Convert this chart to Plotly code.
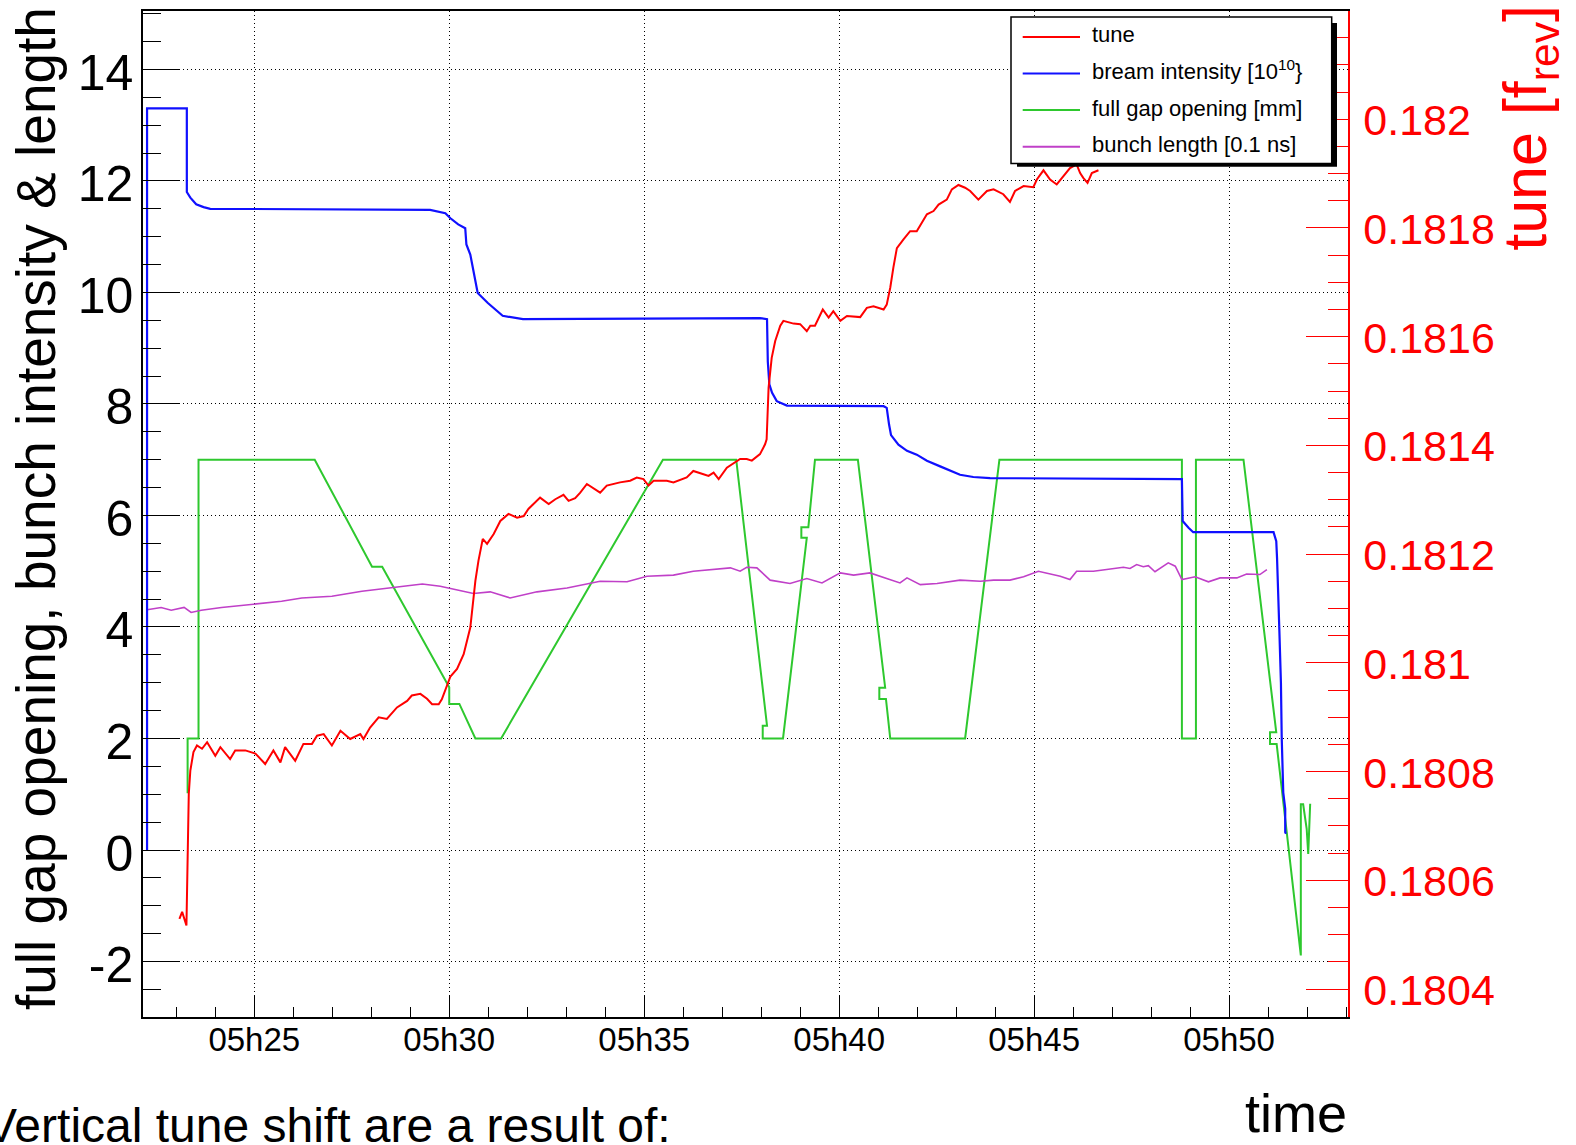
import pandas as pd
import plotly.graph_objects as go

# ---------------- data (time in minutes after 05:00) ----------------
blue_t = [22.25, 22.25, 23.27, 23.27, 23.36, 23.51, 23.70, 23.87, 29.51, 29.77, 29.90, 30.03,
          30.23, 30.41, 30.44, 30.54, 30.60, 30.73, 30.99, 31.37, 31.89, 37.97, 38.15, 38.17,
          38.21, 38.28, 38.40, 38.66, 41.14, 41.22, 41.28, 41.33, 41.52, 41.74, 41.99, 42.25,
          42.59, 42.85, 43.10, 43.44, 43.87, 48.79, 48.81, 48.96, 49.08, 51.14, 51.21, 51.23,
          51.26, 51.29, 51.33, 51.35, 51.39, 51.44, 51.44, 51.46]
blue_v = [0.0, 13.30, 13.30, 11.80, 11.70, 11.58, 11.53, 11.50, 11.48, 11.44, 11.42, 11.33,
          11.22, 11.15, 10.86, 10.68, 10.44, 9.99, 9.81, 9.58, 9.52, 9.54, 9.52, 8.76,
          8.35, 8.20, 8.05, 7.97, 7.96, 7.93, 7.63, 7.44, 7.27, 7.16, 7.09, 6.98,
          6.88, 6.81, 6.73, 6.69, 6.67, 6.65, 5.90, 5.78, 5.70, 5.70, 5.54, 5.24,
          4.70, 3.93, 3.00, 2.02, 1.03, 0.74, 0.32, 0.29]

gap_t = [23.29, 23.29, 23.57, 23.57, 26.55, 28.02, 28.28, 30.00, 30.00, 30.26, 30.67, 31.33,
         35.48, 37.36, 38.15, 38.04, 38.04, 38.56, 39.17, 39.03, 39.03, 39.21, 39.38, 40.48,
         41.18, 41.03, 41.03, 41.20, 41.31, 43.23, 44.11, 48.79, 48.79, 49.15, 49.15, 50.37,
         51.21, 51.05, 51.05, 51.22, 51.84, 51.84, 51.90, 51.99, 52.03, 52.05, 52.08]
gap_v = [1.02, 2.0, 2.0, 7.0, 7.0, 5.08, 5.08, 2.92, 2.62, 2.62, 2.0, 2.0,
         7.0, 7.0, 2.23, 2.23, 2.0, 2.0, 5.60, 5.60, 5.79, 5.79, 7.0, 7.0,
         2.91, 2.91, 2.71, 2.71, 2.0, 2.0, 7.0, 7.0, 2.0, 2.0, 7.0, 7.0,
         2.11, 2.11, 1.90, 1.90, -1.89, 0.82, 0.82, 0.38, -0.07, 0.38, 0.83]

blen_t = [22.25, 22.61, 22.87, 23.20, 23.38, 23.64, 24.16, 24.93, 25.70, 26.22, 26.99, 27.76,
          28.54, 29.31, 29.77, 30.62, 31.05, 31.56, 32.25, 33.02, 33.87, 34.56, 35.07, 35.75,
          36.26, 37.21, 37.46, 37.63, 37.89, 38.23, 38.74, 39.17, 39.56, 40.03, 40.37, 40.79,
          41.56, 41.74, 42.08, 42.51, 43.10, 43.62, 43.96, 44.38, 44.73, 45.11, 45.67, 45.92,
          46.09, 46.52, 46.86, 47.29, 47.46, 47.63, 47.80, 47.93, 48.10, 48.44, 48.62, 48.79,
          49.13, 49.47, 49.77, 50.20, 50.45, 50.79, 50.97]
blen_v = [4.31, 4.35, 4.30, 4.35, 4.26, 4.30, 4.35, 4.41, 4.46, 4.52, 4.55, 4.64,
          4.71, 4.77, 4.73, 4.60, 4.63, 4.52, 4.63, 4.70, 4.82, 4.81, 4.91, 4.93,
          5.00, 5.06, 5.00, 5.07, 5.06, 4.84, 4.78, 4.87, 4.79, 4.97, 4.93, 4.97,
          4.79, 4.88, 4.76, 4.78, 4.84, 4.82, 4.84, 4.84, 4.90, 5.00, 4.91, 4.85,
          5.00, 5.00, 5.03, 5.07, 5.05, 5.12, 5.08, 5.10, 4.99, 5.15, 5.09, 4.85,
          4.90, 4.81, 4.88, 4.88, 4.95, 4.94, 5.03]

tune_t = [23.08, 23.15, 23.26, 23.29, 23.32, 23.36, 23.44, 23.53, 23.66, 23.79, 24.00, 24.13,
          24.38, 24.51, 24.77, 25.03, 25.28, 25.49, 25.67, 25.79, 26.05, 26.26, 26.48, 26.61,
          26.78, 26.99, 27.21, 27.46, 27.72, 27.80, 27.97, 28.19, 28.40, 28.66, 28.92, 29.04,
          29.26, 29.43, 29.56, 29.73, 29.81, 30.03, 30.20, 30.37, 30.54, 30.67, 30.75, 30.86,
          30.97, 31.14, 31.31, 31.52, 31.74, 31.91, 32.03, 32.33, 32.55, 32.72, 32.93, 33.06,
          33.23, 33.36, 33.53, 33.87, 34.04, 34.38, 34.64, 34.81, 34.98, 35.11, 35.24, 35.58,
          35.75, 36.09, 36.26, 36.52, 36.65, 36.78, 36.91, 37.12, 37.33, 37.46, 37.63, 37.76,
          37.97, 38.10, 38.14, 38.19, 38.27, 38.36, 38.49, 38.57, 38.83, 39.00, 39.17, 39.26,
          39.38, 39.47, 39.58, 39.73, 39.85, 40.03, 40.20, 40.54, 40.71, 40.88, 41.14, 41.22,
          41.31, 41.39, 41.48, 41.65, 41.82, 41.99, 42.12, 42.25, 42.42, 42.55, 42.76, 42.89,
          43.06, 43.23, 43.36, 43.57, 43.79, 43.96, 44.21, 44.38, 44.51, 44.73, 44.98, 45.07,
          45.24, 45.41, 45.58, 45.75, 45.92, 46.09, 46.18, 46.26, 46.37, 46.48, 46.65]
tune_v = [0.180529, 0.180542, 0.180517, 0.180649, 0.180759, 0.180802, 0.180836, 0.180848,
          0.180842, 0.180854, 0.180829, 0.180845, 0.180823, 0.180839, 0.180839, 0.180833,
          0.180814, 0.180839, 0.180817, 0.180845, 0.180820, 0.180851, 0.180851, 0.180866,
          0.180869, 0.180848, 0.180875, 0.180860, 0.180869, 0.180860, 0.180881, 0.180900,
          0.180897, 0.180918, 0.180930, 0.180940, 0.180943, 0.180934, 0.180924, 0.180924,
          0.180933, 0.180975, 0.180989, 0.181016, 0.181065, 0.181151, 0.181188, 0.181228,
          0.181219, 0.181237, 0.181261, 0.181274, 0.181267, 0.181270, 0.181283, 0.181304,
          0.181292, 0.181301, 0.181309, 0.181298, 0.181303, 0.181313, 0.181329, 0.181313,
          0.181326, 0.181332, 0.181335, 0.181341, 0.181338, 0.181326, 0.181335, 0.181335,
          0.181332, 0.181341, 0.181353, 0.181347, 0.181344, 0.181350, 0.181338, 0.181359,
          0.181368, 0.181375, 0.181375, 0.181372, 0.181384, 0.181402, 0.181411, 0.181506,
          0.181561, 0.181592, 0.181620, 0.181629, 0.181624, 0.181623, 0.181610, 0.181620,
          0.181620, 0.181635, 0.181650, 0.181635, 0.181647, 0.181629, 0.181638, 0.181636,
          0.181653, 0.181656, 0.181650, 0.181659, 0.181690, 0.181727, 0.181763, 0.181779,
          0.181794, 0.181794, 0.181809, 0.181825, 0.181831, 0.181843, 0.181852, 0.181871,
          0.181879, 0.181874, 0.181868, 0.181852, 0.181868, 0.181871, 0.181862, 0.181848,
          0.181868, 0.181877, 0.181875, 0.181889, 0.181906, 0.181889, 0.181880, 0.181895,
          0.181910, 0.181917, 0.181901, 0.181892, 0.181883, 0.181901, 0.181906]

series_names = ["tune", "bream intensity [10<sup>10</sup>}", "full gap opening [mm]",
                "bunch length [0.1 ns]"]
series_colors = ["#ff0000", "#1010ff", "#2ec82e", "#c040c8"]

y_tickvals = [-2, 0, 2, 4, 6, 8, 10, 12, 14]
y_ticktext = ["-2", "0", "2", "4", "6", "8", "10", "12", "14"]

# ---------------- helpers ----------------
BASE = pd.Timestamp("2011-06-01 05:00:00")


def to_time(mins):
    return [BASE + pd.Timedelta(minutes=m) for m in mins]


W, H = 1576, 1145
L, R, T, B = 143, 1348, 9, 1017


def px(x):
    return (x - L) / (R - L)


def py(y):
    return (B - y) / (B - T)


FONT = "Liberation Sans, Arial, Helvetica, sans-serif"

fig = go.Figure()
fig.add_trace(go.Scatter(x=to_time(gap_t), y=gap_v, mode="lines", name=series_names[2],
                         line=dict(color=series_colors[2], width=2), showlegend=False))
fig.add_trace(go.Scatter(x=to_time(blen_t), y=blen_v, mode="lines", name=series_names[3],
                         line=dict(color=series_colors[3], width=1.6), showlegend=False))
fig.add_trace(go.Scatter(x=to_time(blue_t), y=blue_v, mode="lines", name=series_names[1],
                         line=dict(color=series_colors[1], width=2.2), showlegend=False))
fig.add_trace(go.Scatter(x=to_time(tune_t), y=tune_v, mode="lines", name=series_names[0],
                         line=dict(color=series_colors[0], width=2), yaxis="y2",
                         showlegend=False))

x0 = BASE + pd.Timedelta(minutes=22.146)
x1 = BASE + pd.Timedelta(minutes=53.05)

fig.update_layout(
    width=W, height=H, autosize=False,
    margin=dict(l=L, r=W - R, t=T, b=H - B, pad=0),
    paper_bgcolor="white", plot_bgcolor="white",
    font=dict(family=FONT, color="black"),
    xaxis=dict(
        type="date", range=[x0, x1], tickformat="%Hh%M",
        tick0=BASE, dtick=300000,
        ticks="inside", ticklen=21, tickwidth=1, tickcolor="black",
        minor=dict(ticks="inside", ticklen=10, dtick=60000, tickcolor="black",
                   showgrid=False),
        showgrid=True, gridcolor="black", griddash="1px,3px", gridwidth=1,
        showline=True, linecolor="black", linewidth=1.5, mirror=True,
        tickfont=dict(family=FONT, size=33, color="black"),
        ticklabelstandoff=-7,
        zeroline=False,
    ),
    yaxis=dict(
        range=[-2.995, 15.047], tickmode="array", tickvals=y_tickvals, ticktext=y_ticktext,
        ticks="inside", ticklen=36, tickwidth=1, tickcolor="black",
        minor=dict(ticks="inside", ticklen=18, dtick=0.5, tickcolor="black",
                   showgrid=False),
        showgrid=True, gridcolor="black", griddash="1px,3px", gridwidth=1,
        showline=True, linecolor="black", linewidth=1.5,
        zeroline=False,
        tickfont=dict(family=FONT, size=50, color="black"),
        ticklabelshift=3, ticklabelstandoff=-2,
    ),
    yaxis2=dict(
        overlaying="y", side="right", anchor="x",
        range=[0.18034865, 0.182199], tick0=0.18, dtick=0.0002,
        ticks="inside", ticklen=42, tickwidth=1, tickcolor="#ff0000",
        minor=dict(ticks="inside", ticklen=20, dtick=0.00005, tickcolor="#ff0000",
                   showgrid=False),
        showgrid=False, zeroline=False,
        showline=True, linecolor="#ff0000", linewidth=1.5,
        tickfont=dict(family=FONT, size=43, color="#ff0000"),
        ticklabelshift=1, ticklabelstandoff=5,
    ),
)

# ---------------- manual ROOT-style legend ----------------
shapes = [
    dict(type="rect", xref="paper", yref="paper", layer="above",
         x0=px(1017), x1=px(1337), y0=py(165), y1=py(21),
         fillcolor="black", line=dict(width=0)),
    dict(type="rect", xref="paper", yref="paper", layer="above",
         x0=px(1011), x1=px(1331.7), y0=py(161.7), y1=py(15),
         fillcolor="white", line=dict(color="black", width=1.5)),
]
rows_y = [35, 71.7, 108.3, 145]
text_dy = [-2, -4, -2, -2]
annotations = []
for name, col, ry, dy in zip(series_names, series_colors, rows_y, text_dy):
    shapes.append(dict(type="line", xref="paper", yref="paper", layer="above",
                       x0=px(1022.7), x1=px(1080), y0=py(ry), y1=py(ry),
                       line=dict(color=col, width=2)))
    annotations.append(dict(xref="paper", yref="paper", x=px(1090), y=py(ry + dy),
                            xanchor="left", yanchor="middle", showarrow=False,
                            text=name, font=dict(family=FONT, size=22, color="black")))

# axis titles and page text
annotations += [
    dict(xref="paper", yref="paper", x=px(36), y=py(508), xanchor="center",
         yanchor="middle", textangle=-90, showarrow=False,
         text="full gap opening, bunch intensity & length",
         font=dict(family=FONT, size=55, color="black")),
    dict(xref="paper", yref="paper", x=px(1530), y=py(126), xanchor="center",
         yanchor="middle", textangle=-90, showarrow=False,
         text="tune [f<sub>rev</sub>]",
         font=dict(family=FONT, size=61, color="#ff0000")),
    dict(xref="paper", yref="paper", x=px(1349), y=py(1145), xanchor="right",
         yanchor="bottom", showarrow=False, text="time",
         font=dict(family=FONT, size=54, color="black")),
    dict(xref="paper", yref="paper", x=px(673), y=py(1126), xanchor="right",
         yanchor="middle", showarrow=False, text="Vertical tune shift are a result of:",
         font=dict(family=FONT, size=48, color="black")),
]

fig.update_layout(shapes=shapes, annotations=annotations)
fig.write_html("out.html")
